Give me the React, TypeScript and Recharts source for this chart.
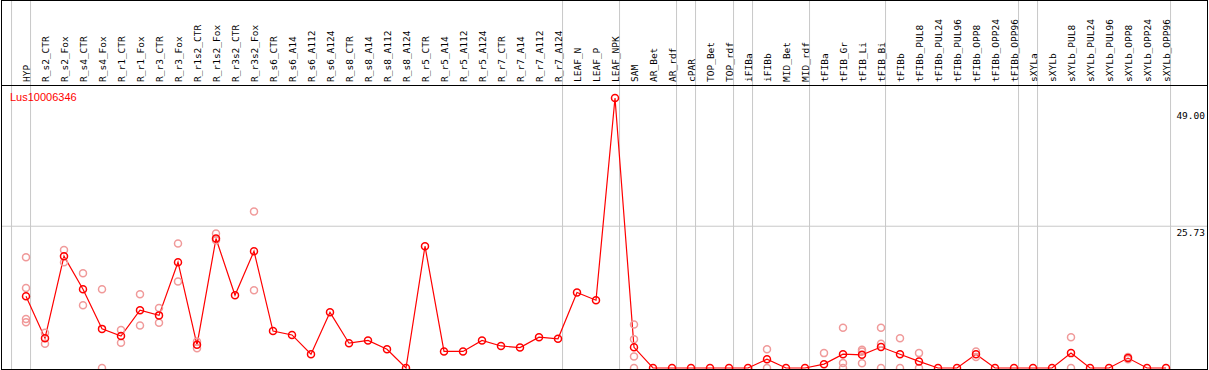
import { ComposedChart, Line, Scatter, XAxis, YAxis, ReferenceLine } from "recharts";

const categories = [
  "HYP", "R_s2_CTR", "R_s2_Fox", "R_s4_CTR", "R_s4_Fox", "R_r1_CTR", "R_r1_Fox", "R_r3_CTR", "R_r3_Fox",
  "R_r1s2_CTR", "R_r1s2_Fox", "R_r3s2_CTR", "R_r3s2_Fox", "R_s6_CTR", "R_s6_A14", "R_s6_A112", "R_s6_A124",
  "R_s8_CTR", "R_s8_A14", "R_s8_A112", "R_s8_A124", "R_r5_CTR", "R_r5_A14", "R_r5_A112", "R_r5_A124",
  "R_r7_CTR", "R_r7_A14", "R_r7_A112", "R_r7_A124", "LEAF_N", "LEAF_P", "LEAF_NPK", "SAM", "AR_Bet", "AR_rdf",
  "cPAR", "TOP_Bet", "TOP_rdf", "iFIBa", "iFIBb", "MID_Bet", "MID_rdf", "tFIBa", "tFIB_Gr", "tFIB_Li", "tFIB_Bi",
  "tFIBb", "tFIBb_PUL8", "tFIBb_PUL24", "tFIBb_PUL96", "tFIBb_OPP8", "tFIBb_OPP24", "tFIBb_OPP96", "sXYLa",
  "sXYLb", "sXYLb_PUL8", "sXYLb_PUL24", "sXYLb_PUL96", "sXYLb_OPP8", "sXYLb_OPP24", "sXYLb_OPP96",
];

const means = [
  13.0, 5.4, 20.3, 14.3, 7.1, 5.8, 10.5, 9.55, 19.2, 4.2, 23.5, 13.2, 21.2, 6.7, 6.0, 2.5, 10.1,
  4.5, 5.0, 3.4, 0, 22.1, 3.0, 3.0, 5.0, 4.0, 3.7, 5.6, 5.3, 13.7, 12.3, 49.0, 3.75, 0, 0,
  0, 0, 0, 0, 1.6, 0, 0, 0.7, 2.5, 2.4, 3.8, 2.5, 1.2, 0, 0, 2.5, 0, 0, 0,
  0, 2.7, 0, 0, 1.8, 0, 0,
];

// individual replicates, per category (empty = hidden behind the mean)
const replicates: number[][] = [
  [20.1, 14.5, 8.9, 8.3], [6.4, 4.4], [21.4, 19.2], [17.2, 11.4], [14.3, 0], [6.9, 4.6], [13.4, 7.7],
  [10.9, 8.2], [22.6, 15.7], [4.8, 3.6], [24.4, 23.2], [], [28.4, 14.1], [], [], [], [],
  [], [], [], [], [], [], [], [], [], [], [], [], [], [], [], [7.9, 5.2, 2.1, 0], [], [],
  [], [], [], [], [3.4, 0], [], [], [2.7], [7.3, 0.9, 0], [3.3, 3.0, 0.85], [7.3, 4.4, 0], [5.4, 0], [2.7, 0],
  [], [], [3.0, 2.0], [], [], [], [], [5.6, 0], [], [], [2.0, 1.6], [], [],
];

const yTicks = [0, 25.73, 49];
const yTickLabels = ["0", "25.73", "49.00"];
const separatorsAfter = [-1, 0, 28, 31, 34, 35, 37, 38, 41, 45, 52, 53, 60];

const rows = categories.map((name, idx) => ({ idx, name, mean: means[idx] }));
const repRows = replicates.flatMap((vals, idx) => vals.map((rep) => ({ idx, rep })));

const mono = "'DejaVu Sans Mono', monospace";
const grey = "#c8c8c8";

const CategoryTick = ({ x, payload }: any) => (
  <text
    x={x + 3.5}
    y={82}
    transform={`rotate(-90, ${x + 3.5}, 82)`}
    fontFamily={mono}
    fontSize={9.5}
    fill="#000"
  >
    {categories[payload.value]}
  </text>
);

const ValueTick = ({ y, payload }: any) => {
  const i = yTicks.indexOf(payload.value);
  const dy = i === 0 ? -6 : i === 1 ? 6 : 17;
  return (
    <text x={1205} y={y + dy} textAnchor="end" dominantBaseline="central" fontFamily={mono} fontSize={9.5} fill="#000">
      {yTickLabels[i]}
    </text>
  );
};

export default function App() {
  return (
    <div style={{ position: "relative", width: 1209, height: 370, background: "#fff" }}>
      <style>{"body{margin:0}"}</style>
      <ComposedChart width={1209} height={370} data={rows} margin={{ top: 0, right: 0, bottom: 2, left: 7 }}>
        <XAxis
          type="number"
          dataKey="idx"
          domain={[-1, 61]}
          ticks={rows.map((r) => r.idx)}
          interval={0}
          orientation="top"
          height={98}
          axisLine={false}
          tickLine={false}
          tick={<CategoryTick />}
        />
        <YAxis
          orientation="right"
          width={24}
          domain={[0, 49]}
          ticks={yTicks}
          axisLine={false}
          tickLine={false}
          tick={<ValueTick />}
        />
        {separatorsAfter.map((s) => (
          <ReferenceLine
            key={s}
            x={s + 0.24}
            ifOverflow="visible"
            shape={(p: any) => <line x1={p.x1} x2={p.x2} y1={0} y2={370} stroke={grey} strokeWidth={1} />}
          />
        ))}
        <ReferenceLine
          y={25.73}
          shape={(p: any) => <line x1={1} x2={1207} y1={p.y1} y2={p.y2} stroke={grey} strokeWidth={1} />}
        />
        <Scatter
          data={repRows}
          dataKey="rep"
          isAnimationActive={false}
          shape={(p: any) => <circle cx={p.cx} cy={p.cy} r={3.5} fill="none" stroke="#f09a9a" strokeWidth={1.5} />}
        />
        <Line
          type="linear"
          dataKey="mean"
          stroke="#ff0000"
          strokeWidth={1.2}
          dot={{ r: 3.5, stroke: "#ff0000", strokeWidth: 1.5, fill: "none" }}
          activeDot={false}
          isAnimationActive={false}
        />
      </ComposedChart>
      <svg width={1209} height={370} style={{ position: "absolute", left: 0, top: 0, pointerEvents: "none" }}>
        <line x1={1} x2={1208} y1={0.5} y2={0.5} stroke="#000" />
        <line x1={1} x2={1208} y1={85.5} y2={85.5} stroke="#000" />
        <line x1={1} x2={1208} y1={369.5} y2={369.5} stroke="#000" />
        <line x1={1.5} x2={1.5} y1={0} y2={370} stroke="#000" />
        <line x1={1207.5} x2={1207.5} y1={0} y2={370} stroke="#000" />
        <text x={10} y={101} fontFamily="'Liberation Sans', Arial, sans-serif" fontSize={11} fill="#ff0000">
          Lus10006346
        </text>
      </svg>
    </div>
  );
}
